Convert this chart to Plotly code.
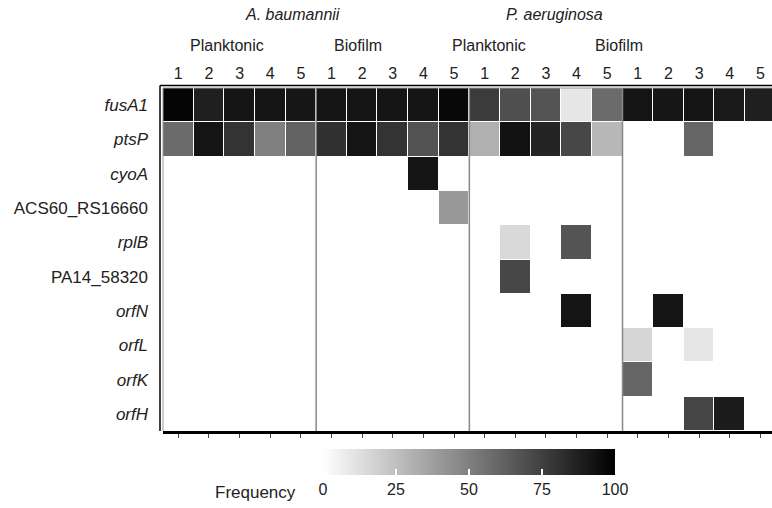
import plotly.graph_objects as go

genes = ["fusA1", "ptsP", "cyoA", "ACS60_RS16660", "rplB", "PA14_58320",
         "orfN", "orfL", "orfK", "orfH"]
gene_italic = [True, True, True, False, True, False, True, True, True, True]
replicates = ["1", "2", "3", "4", "5"]
groups = ["A. baumannii Planktonic", "A. baumannii Biofilm",
          "P. aeruginosa Planktonic", "P. aeruginosa Biofilm"]
N = None
fusA1 = [98, 88, 92, 92, 91, 92, 92, 92, 92, 97, 77, 69, 67, 10, 58, 92, 91, 92, 90, 88]
ptsP = [58, 92, 80, 50, 61, 81, 92, 80, 68, 80, 31, 93, 86, 72, 28, N, N, 60, N, N]
cyoA = [N, N, N, N, N, N, N, N, 92, N, N, N, N, N, N, N, N, N, N, N]
acs60 = [N, N, N, N, N, N, N, N, N, 40, N, N, N, N, N, N, N, N, N, N]
rplB = [N, N, N, N, N, N, N, N, N, N, N, 15, N, 67, N, N, N, N, N, N]
pa14 = [N, N, N, N, N, N, N, N, N, N, N, 72, N, N, N, N, N, N, N, N]
orfN = [N, N, N, N, N, N, N, N, N, N, N, N, N, 92, N, N, 92, N, N, N]
orfL = [N, N, N, N, N, N, N, N, N, N, N, N, N, N, N, 16, N, 10, N, N]
orfK = [N, N, N, N, N, N, N, N, N, N, N, N, N, N, N, 60, N, N, N, N]
orfH = [N, N, N, N, N, N, N, N, N, N, N, N, N, N, N, N, N, 73, 89, N]
z = [fusA1, ptsP, cyoA, acs60, rplB, pa14, orfN, orfL, orfK, orfH]

cbar_ticks = [0, 25, 50, 75, 100]
species_labels = [("A. baumannii", 3.74), ("P. aeruginosa", 12.27)]
state_labels = [("Planktonic", 1.6), ("Biofilm", 5.88), ("Planktonic", 10.13), ("Biofilm", 14.4)]

ncol = len(groups) * len(replicates)
cols = list(range(ncol))
col_text = replicates * len(groups)
ytext = [f"<i>{g}</i>" if it else g for g, it in zip(genes, gene_italic)]

FONT = "Arial, Liberation Sans, sans-serif"
TXT = "#222222"
W, H = 772, 508

def px(x):
    return x / W

def py(y):
    return (H - y) / H

fig = go.Figure()
fig.add_trace(go.Heatmap(
    z=z, x=cols, y=list(range(len(genes))),
    colorscale=[[0, "#ffffff"], [1, "#000000"]], zmin=0, zmax=100,
    xgap=1, ygap=1, hoverongaps=False,
    colorbar=dict(
        orientation="h", x=px(469), xanchor="center", y=py(449), yanchor="top",
        len=292 / W, lenmode="fraction", thickness=26, outlinewidth=0,
        xpad=0, ypad=0,
        tickvals=cbar_ticks, ticks="inside", ticklen=6, tickcolor="white", tickwidth=1.5,
        tickfont=dict(family=FONT, size=16, color=TXT),
    ),
))
fig.add_trace(go.Scatter(x=[None], y=[None], xaxis="x2", showlegend=False, hoverinfo="skip"))

x_range = [-0.5, 19.38]
fig.update_layout(
    width=W, height=H,
    margin=dict(l=0, r=0, t=0, b=0),
    paper_bgcolor="white", plot_bgcolor="white",
    font=dict(family=FONT, color=TXT),
    xaxis=dict(domain=[px(163), 1], side="top", range=x_range, tickvals=cols, ticktext=col_text,
               tickfont=dict(size=16), ticks="", showgrid=False, zeroline=False,
               ticklabelstandoff=5, automargin=False),
    xaxis2=dict(domain=[px(163), 1], overlaying="x", side="bottom", anchor="y", range=x_range,
                tickvals=cols, showticklabels=False, ticks="outside", ticklen=4,
                tickcolor="#444", tickwidth=1, showline=True, linecolor="black",
                linewidth=2.5, showgrid=False, zeroline=False, automargin=False),
    yaxis=dict(domain=[py(431), py(88)], range=[len(genes) - 0.5, -0.5],
               tickvals=list(range(len(genes))),
               ticktext=ytext, tickfont=dict(size=17), ticks="", showgrid=False,
               zeroline=False, ticklabelstandoff=14, automargin=False),
)

shapes = []
shapes.append(dict(type="line", xref="paper", yref="paper", x0=px(160), x1=1, y0=py(85.5), y1=py(85.5),
                   line=dict(color="black", width=1.5)))
shapes.append(dict(type="line", xref="paper", yref="paper", x0=px(163), x1=1, y0=py(88), y1=py(88),
                   line=dict(color="#999999", width=1)))
shapes.append(dict(type="line", xref="paper", yref="paper", x0=px(160), x1=px(160), y0=py(431), y1=py(85.5),
                   line=dict(color="black", width=1.5)))
shapes.append(dict(type="line", xref="paper", yref="paper", x0=px(163), x1=px(163), y0=py(431), y1=py(88),
                   line=dict(color="#999999", width=1)))
for b in [4.5, 9.5, 14.5]:
    shapes.append(dict(type="line", xref="x", yref="paper", x0=b, x1=b, y0=py(431), y1=py(88),
                       line=dict(color="#888888", width=1.5)))
fig.update_layout(shapes=shapes)

ann = []
for t, xc in species_labels:
    ann.append(dict(text=f"<i>{t}</i>", x=xc, xref="x", y=py(15), yref="paper", yanchor="middle",
                    xanchor="center", showarrow=False, font=dict(size=16, color=TXT)))
for t, xc in state_labels:
    ann.append(dict(text=t, x=xc, xref="x", y=py(46), yref="paper", yanchor="middle",
                    xanchor="center", showarrow=False, font=dict(size=16, color=TXT)))
ann.append(dict(text="Frequency", x=px(255), xref="paper", y=py(492), yref="paper",
                yanchor="middle", xanchor="center", showarrow=False, font=dict(size=17, color=TXT)))
fig.update_layout(annotations=ann)

fig.write_html("out.html", post_script="document.body.style.margin='0';",
               config={"displayModeBar": False})
